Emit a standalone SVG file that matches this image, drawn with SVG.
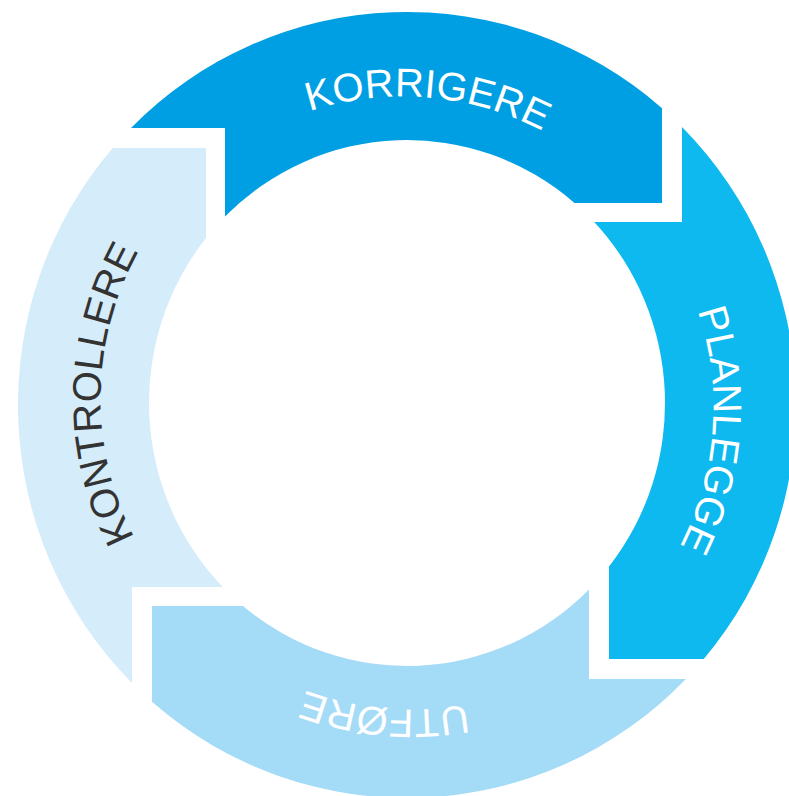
<svg xmlns="http://www.w3.org/2000/svg" width="789" height="796" viewBox="0 0 789 796">
  <style>
    .label { font-family: "Liberation Sans", Arial, sans-serif; font-size: 40px; text-anchor: middle; }
    .light { fill: #ffffff; }
    .dark { fill: #333333; }
  </style>
  <defs>
    <!-- clockwise baseline circle (r=302) starting at the lower-left, used for all ring labels -->
    <path id="labelTrack" d="M193.5,616.5 A302,302 0 1,1 620.5,189.5 A302,302 0 1,1 193.5,616.5" fill="none"/>
  </defs>
  <rect width="789" height="796" fill="#ffffff"/>

  <g id="korrigere">
    <path d="M131,128 A389,393 0 0,1 662,108.2 L662,203 L574.5,203 A258,263 0 0,0 225,216.6 L225,128 Z" fill="#009FE3"/>
    <text class="label light"><textPath href="#labelTrack" startOffset="743">KORRIGERE</textPath></text>
  </g>

  <g id="planlegge">
    <path d="M682,127 A389,393 0 0,1 703.8,659 L609,659 L609,566.6 A258,263 0 0,0 594.2,222 L682,222 Z" fill="#0DB9EE"/>
    <text class="label light"><textPath href="#labelTrack" startOffset="1227">PLANLEGGE</textPath></text>
  </g>

  <g id="utfore">
    <path d="M685.9,679 A389,393 0 0,1 152,701.8 L152,606 L243,606 A258,263 0 0,0 589,589.4 L589,679 Z" fill="#A4DBF7"/>
    <text class="label light"><textPath href="#labelTrack" startOffset="1705">UTFØRE</textPath></text>
  </g>

  <g id="kontrollere">
    <path d="M132,683 A389,393 0 0,1 112.7,148 L206,148 L206,238.1 A258,263 0 0,0 222.7,587 L132,587 Z" fill="#D5ECFA"/>
    <text class="label dark"><textPath href="#labelTrack" startOffset="248">KONTROLLERE</textPath></text>
  </g>
</svg>
